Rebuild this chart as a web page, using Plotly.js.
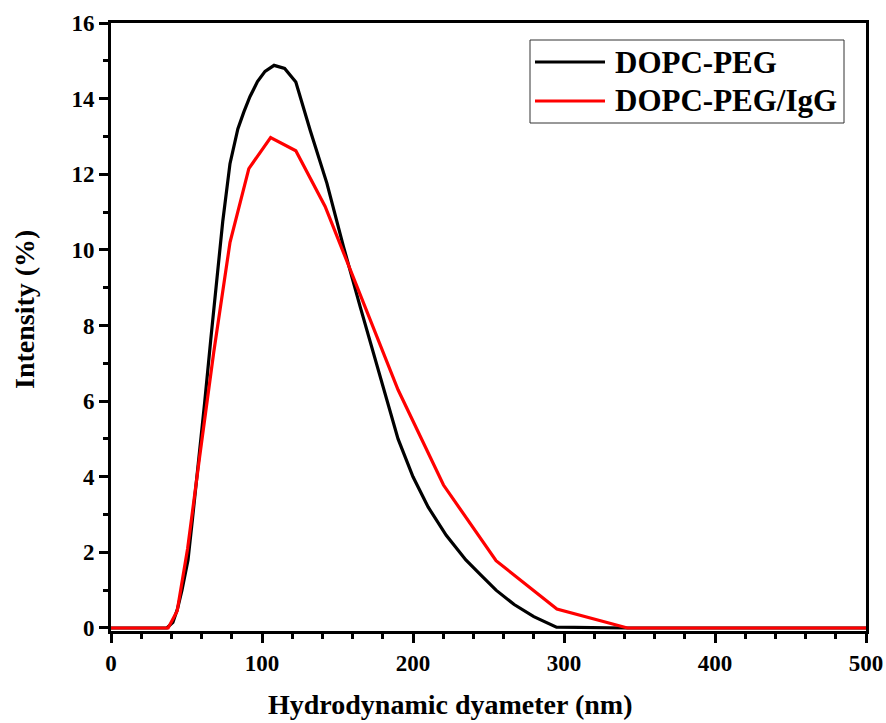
<!DOCTYPE html>
<html>
<head>
<meta charset="utf-8">
<script src="https://cdn.plot.ly/plotly-3.0.1.min.js"></script>
<style>html,body{margin:0;padding:0;background:#fff;}#chart{width:886px;height:723px;}</style>
</head>
<body>
<div id="chart"></div>
<script>
// Series names
const seriesNames = ["DOPC-PEG", "DOPC-PEG/IgG"];
const seriesColors = ["#000000", "#ff0000"];

// DOPC-PEG (black)
const dopcX = [0, 37, 41, 44, 47, 51, 54, 58, 62, 66, 70, 74, 78.8, 84, 88, 92, 97, 102, 108, 115, 122.4, 132, 143, 154, 165, 175, 185, 190.1, 200, 210, 222, 235, 245, 255, 267, 280, 295, 342, 400, 500];
const dopcY = [0, 0, 0.15, 0.5, 1.0, 1.8, 2.9, 4.4, 5.95, 7.6, 9.2, 10.75, 12.28, 13.2, 13.65, 14.05, 14.45, 14.72, 14.88, 14.8, 14.44, 13.15, 11.76, 10.08, 8.5, 7.1, 5.7, 5.0, 4.0, 3.2, 2.45, 1.8, 1.4, 1.0, 0.62, 0.3, 0.02, 0, 0, 0];

// DOPC-PEG/IgG (red)
const iggX = [0, 37.84, 43.82, 50.75, 58.77, 68.06, 78.82, 91.28, 105.7, 122.4, 141.8, 164.2, 190.1, 220.2, 255.0, 295.3, 342.0, 396.1, 458.7, 500];
const iggY = [0, 0, 0.45, 2.1, 4.55, 7.3, 10.2, 12.15, 12.97, 12.62, 11.15, 8.9, 6.3, 3.78, 1.78, 0.5, 0, 0, 0, 0];

// Axis labels
const xTitle = "Hydrodynamic dyameter (nm)";
const yTitle = "Intensity (%)";

const fontFam = "Liberation Serif, Times New Roman, serif";

const traces = [
  {x: dopcX, y: dopcY, name: seriesNames[0], type: "scatter", mode: "lines",
   line: {color: seriesColors[0], width: 3.2, shape: "linear"}, showlegend: false},
  {x: iggX, y: iggY, name: seriesNames[1], type: "scatter", mode: "lines",
   line: {color: seriesColors[1], width: 3.2, shape: "linear"}, showlegend: false}
];

const axisCommon = {
  showgrid: false, zeroline: false, showline: true, linecolor: "#000", linewidth: 3,
  mirror: true, ticks: "outside", ticklen: 9, tickwidth: 3, tickcolor: "#000",
  tickfont: {family: fontFam, size: 23, color: "#000", weight: "bold"}
};

// Legend drawn as paper-positioned box, sample lines and text
const plotL = 111, plotT = 23, plotW = 755, plotH = 608;
const px2x = p => (p - plotL) / plotW;
const py2y = p => 1 - (p - plotT) / plotH;
const legRows = [62, 101];
const shapes = [
  {type: "rect", xref: "paper", yref: "paper", x0: px2x(530), x1: px2x(844), y0: py2y(40), y1: py2y(123),
   line: {color: "#333", width: 1}, fillcolor: "#fff", layer: "above"}
];
const annotations = [];
seriesNames.forEach((n, i) => {
  shapes.push({type: "line", xref: "paper", yref: "paper", x0: px2x(535), x1: px2x(605),
    y0: py2y(legRows[i]), y1: py2y(legRows[i]), line: {color: seriesColors[i], width: 3.2}, layer: "above"});
  annotations.push({xref: "paper", yref: "paper", x: px2x(613), y: py2y(legRows[i]), xanchor: "left", yanchor: "middle",
    text: "<b>" + n + "</b>", showarrow: false, font: {family: fontFam, size: 31, color: "#000"}});
});
// Axis titles
annotations.push({xref: "paper", yref: "paper", x: px2x(450), y: py2y(704), xanchor: "center", yanchor: "middle",
  text: "<b>" + xTitle + "</b>", showarrow: false, font: {family: fontFam, size: 28, color: "#000"}});
annotations.push({xref: "paper", yref: "paper", x: px2x(24), y: py2y(310), xanchor: "center", yanchor: "middle",
  text: "<b>" + yTitle + "</b>", showarrow: false, textangle: -90, font: {family: fontFam, size: 28, color: "#000"}});

const layout = {
  width: 886, height: 723,
  margin: {l: 111, r: 20, t: 23, b: 92},
  paper_bgcolor: "#fff", plot_bgcolor: "#fff",
  font: {family: fontFam, color: "#000"},
  xaxis: Object.assign({}, axisCommon, {
    range: [0, 500], tick0: 0, dtick: 100,
    minor: {dtick: 20, ticks: "outside", ticklen: 5, tickwidth: 3, tickcolor: "#000"}
  }),
  yaxis: Object.assign({}, axisCommon, {
    range: [-0.08, 16], tick0: 0, dtick: 2,
    minor: {dtick: 1, ticks: "outside", ticklen: 5, tickwidth: 3, tickcolor: "#000"}
  }),
  showlegend: false,
  shapes: shapes,
  annotations: annotations
};

Plotly.newPlot("chart", traces, layout, {displayModeBar: false, staticPlot: true});
</script>
</body>
</html>
